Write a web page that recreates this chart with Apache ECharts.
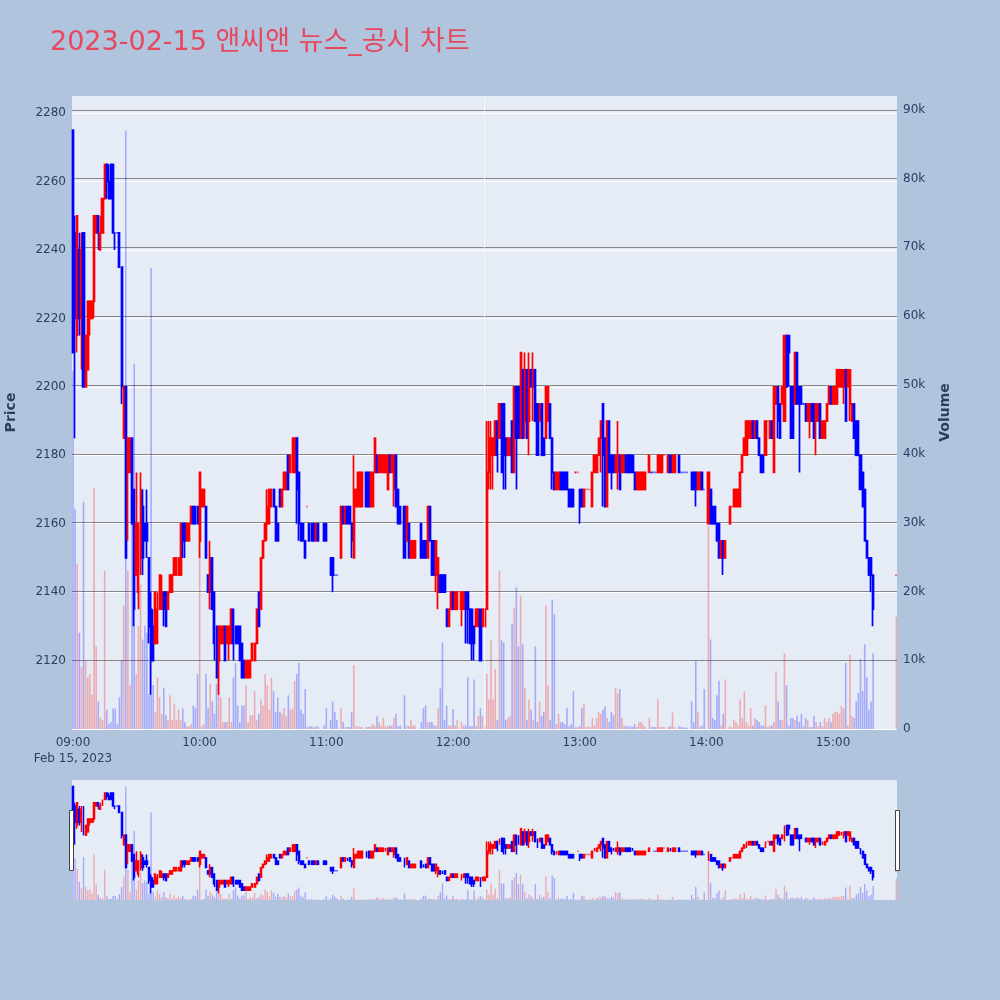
<!DOCTYPE html>
<html><head><meta charset="utf-8">
<script src="https://cdn.jsdelivr.net/npm/echarts@6/dist/echarts.min.js"></script>
<style>html,body{margin:0;padding:0;background:#b0c4de;}#c{width:1000px;height:1000px;}</style>
</head><body><div id="c"></div>
<script>
const titleText = '2023-02-15 앤씨앤 뉴스_공시 차트';
const dateLabel = 'Feb 15, 2023';
const timeTicks = [0, 60, 120, 180, 240, 300, 360];   // minutes after 09:00
const disclosureMinute = 195;                          // 12:15 marker line

// minute offset from 09:00 for each candle
const minuteOfDay = [
0,1,2,3,4,5,6,7,8,9,
10,11,12,13,14,15,16,17,18,19,
20,21,22,23,24,25,26,27,28,29,
30,31,32,33,34,35,36,37,38,39,
40,41,42,43,44,45,46,47,48,49,
50,51,52,53,54,55,56,57,58,59,
60,61,62,63,64,65,66,67,68,69,
70,71,72,73,74,75,76,77,78,79,
80,81,82,83,84,85,86,87,88,89,
90,91,92,93,94,95,96,97,98,99,
100,101,102,103,104,105,106,107,108,109,
110,111,112,113,114,115,116,119,120,122,
123,124,125,127,128,129,130,131,132,133,
134,135,136,137,139,140,141,142,143,144,
145,146,147,148,149,150,151,152,153,154,
155,157,158,159,160,161,162,165,166,167,
168,169,170,171,172,173,174,175,176,177,
178,179,180,181,182,184,185,186,187,188,
189,190,191,192,193,194,195,196,197,198,
199,200,201,202,203,204,205,206,207,208,
209,210,211,212,213,214,215,216,217,218,
219,220,221,222,223,224,225,226,227,228,
229,230,231,232,233,234,235,236,237,238,
239,240,241,242,243,244,245,246,247,248,
249,250,251,252,253,254,255,256,257,258,
259,260,261,262,263,264,265,266,267,268,
269,270,271,273,274,275,276,277,278,279,
280,282,283,284,285,287,288,289,290,291,
293,294,295,296,297,298,299,301,302,303,
304,305,306,307,308,309,311,312,313,314,
315,316,317,318,319,320,321,322,323,324,
325,326,327,328,329,330,331,332,333,334,
335,336,337,338,339,340,341,342,343,344,
345,346,347,348,349,350,351,352,353,354,
355,356,357,358,359,360,361,362,363,364,
365,366,367,368,369,370,371,372,373,374,
375,376,377,378,379,390];

const openPrice = [
2275,2245,2215,2240,2220,2245,2200,2205,2220,2220,
2225,2245,2250,2240,2245,2255,2265,2260,2265,2265,
2245,2245,2245,2235,2185,2200,2175,2175,2185,2170,
2145,2140,2150,2165,2160,2160,2150,2135,2130,2125,
2125,2135,2135,2140,2140,2135,2140,2140,2145,2145,
2145,2145,2160,2160,2155,2155,2160,2165,2165,2165,
2155,2165,2165,2165,2145,2140,2150,2140,2130,2120,
2125,2125,2130,2125,2125,2125,2135,2130,2130,2130,
2125,2120,2115,2115,2115,2120,2120,2125,2140,2135,
2150,2155,2160,2160,2165,2170,2165,2160,2170,2165,
2170,2170,2180,2175,2175,2175,2185,2175,2160,2160,
2155,2165,2160,2160,2160,2155,2160,2160,2160,2150,
2150,2145,2145,2150,2165,2160,2165,2165,2160,2150,
2165,2165,2165,2165,2175,2175,2165,2165,2175,2180,
2175,2175,2175,2175,2170,2180,2175,2170,2180,2170,
2165,2165,2155,2160,2150,2150,2150,2160,2155,2155,
2150,2165,2155,2155,2145,2140,2145,2145,2145,2135,
2130,2135,2140,2135,2135,2135,2135,2140,2140,2135,
2135,2130,2130,2130,2135,2130,2130,2135,2175,2180,
2180,2180,2190,2185,2195,2195,2185,2180,2180,2190,
2175,2200,2200,2185,2205,2190,2205,2190,2205,2200,
2205,2195,2190,2195,2185,2185,2190,2195,2185,2175,
2170,2170,2175,2175,2175,2175,2170,2170,2170,2175,
2175,2170,2170,2165,2170,2170,2170,2165,2175,2175,
2180,2185,2195,2185,2165,2190,2180,2180,2175,2175,
2180,2175,2175,2180,2180,2180,2180,2175,2170,2170,
2170,2170,2170,2175,2175,2175,2175,2175,2175,2175,
2180,2175,2180,2175,2175,2180,2175,2175,2175,2175,
2175,2175,2175,2170,2170,2175,2170,2160,2170,2165,
2165,2160,2160,2150,2155,2150,2160,2165,2165,2165,
2165,2165,2175,2180,2180,2185,2185,2190,2185,2190,
2185,2180,2180,2180,2190,2185,2190,2175,2195,2200,
2195,2195,2190,2215,2215,2200,2200,2195,2210,2200,
2200,2195,2195,2190,2190,2195,2195,2190,2190,2195,
2185,2185,2190,2195,2200,2195,2195,2195,2200,2200,
2200,2205,2200,2195,2190,2195,2190,2190,2180,2175,
2170,2155,2150,2150,2145,2145];

const closePrice = [
2210,2220,2250,2220,2240,2200,2215,2225,2225,2225,
2250,2250,2245,2245,2255,2265,2260,2255,2255,2245,
2245,2245,2235,2200,2200,2150,2185,2185,2160,2135,
2160,2160,2170,2150,2155,2155,2130,2120,2120,2140,
2135,2145,2140,2135,2130,2140,2145,2145,2150,2150,
2150,2160,2155,2155,2160,2160,2165,2160,2160,2160,
2175,2170,2170,2150,2140,2150,2135,2125,2115,2130,
2130,2130,2120,2130,2130,2135,2125,2125,2125,2120,
2115,2115,2120,2120,2120,2125,2125,2135,2130,2150,
2155,2160,2165,2170,2170,2165,2155,2155,2165,2170,
2175,2175,2170,2180,2185,2185,2170,2160,2155,2155,
2150,2165,2155,2155,2155,2160,2155,2155,2155,2145,
2145,2145,2145,2165,2160,2165,2160,2160,2155,2170,
2170,2175,2175,2175,2165,2165,2175,2175,2185,2175,
2180,2180,2180,2180,2180,2175,2180,2180,2165,2160,
2160,2150,2165,2150,2155,2155,2155,2150,2150,2150,
2165,2155,2145,2145,2155,2150,2140,2140,2140,2130,
2135,2140,2135,2140,2140,2140,2140,2135,2135,2125,
2125,2125,2135,2135,2120,2135,2135,2175,2185,2185,
2185,2190,2180,2195,2175,2180,2180,2185,2185,2175,
2200,2185,2185,2210,2185,2205,2185,2205,2200,2205,
2190,2180,2195,2180,2180,2200,2200,2185,2175,2170,
2175,2175,2170,2170,2170,2170,2165,2165,2165,2175,
2175,2165,2165,2170,2170,2170,2170,2175,2180,2180,
2185,2190,2180,2165,2190,2175,2175,2175,2180,2180,
2170,2180,2180,2175,2175,2175,2175,2170,2175,2175,
2175,2175,2175,2180,2175,2175,2175,2180,2180,2180,
2180,2180,2175,2180,2180,2175,2175,2175,2175,2175,
2170,2170,2170,2175,2175,2170,2170,2175,2160,2160,
2160,2155,2150,2155,2150,2155,2165,2165,2170,2170,
2170,2175,2180,2185,2190,2190,2190,2185,2190,2185,
2180,2175,2175,2190,2190,2190,2185,2200,2200,2190,
2185,2200,2215,2200,2210,2185,2185,2210,2195,2195,
2195,2195,2190,2195,2195,2190,2185,2195,2195,2185,
2190,2190,2195,2200,2195,2200,2200,2205,2205,2205,
2205,2190,2205,2205,2195,2185,2180,2180,2170,2165,
2155,2150,2145,2145,2135,2145];

const lowPrice = [
2210,2185,2210,2215,2205,2200,2200,2205,2215,2220,
2220,2245,2240,2240,2245,2255,2255,2255,2255,2245,
2240,2245,2235,2195,2185,2150,2155,2175,2160,2130,
2145,2135,2145,2145,2155,2150,2125,2110,2120,2125,
2125,2135,2135,2130,2130,2135,2140,2140,2145,2145,
2145,2145,2150,2150,2155,2155,2160,2160,2160,2160,
2150,2165,2165,2150,2140,2135,2135,2120,2115,2110,
2125,2125,2120,2125,2120,2125,2120,2125,2125,2120,
2115,2115,2115,2115,2115,2120,2120,2125,2130,2135,
2150,2155,2155,2160,2165,2165,2155,2155,2165,2165,
2170,2170,2170,2175,2175,2175,2160,2155,2155,2155,
2150,2165,2155,2155,2155,2155,2155,2155,2155,2145,
2140,2145,2145,2150,2160,2160,2160,2160,2150,2150,
2165,2165,2165,2165,2165,2165,2165,2165,2175,2175,
2175,2175,2175,2175,2170,2175,2175,2165,2165,2160,
2160,2150,2155,2150,2150,2150,2150,2150,2150,2150,
2150,2155,2145,2145,2140,2135,2140,2140,2140,2130,
2130,2135,2135,2135,2135,2130,2135,2125,2125,2125,
2120,2120,2130,2130,2120,2130,2130,2135,2170,2170,
2170,2180,2175,2185,2175,2170,2170,2180,2180,2175,
2175,2170,2185,2185,2185,2185,2185,2180,2200,2190,
2190,2180,2190,2180,2180,2185,2190,2185,2170,2170,
2170,2170,2170,2170,2170,2170,2165,2165,2165,2175,
2175,2160,2165,2165,2170,2170,2170,2165,2175,2175,
2180,2175,2165,2165,2165,2175,2170,2175,2175,2170,
2170,2175,2175,2175,2175,2175,2175,2170,2170,2170,
2170,2170,2170,2175,2175,2175,2175,2175,2175,2175,
2180,2175,2175,2175,2175,2175,2175,2175,2175,2175,
2170,2170,2165,2170,2170,2170,2170,2160,2160,2160,
2160,2155,2150,2150,2145,2150,2160,2165,2165,2165,
2165,2165,2175,2180,2180,2185,2185,2185,2185,2185,
2180,2175,2175,2180,2190,2185,2185,2175,2195,2185,
2185,2195,2190,2200,2200,2185,2185,2195,2195,2175,
2195,2195,2190,2190,2185,2190,2185,2180,2190,2185,
2185,2185,2190,2195,2195,2195,2195,2195,2200,2200,
2195,2190,2200,2190,2190,2185,2180,2180,2170,2165,
2155,2150,2145,2140,2130,2145];

const highPrice = [
2275,2250,2250,2245,2245,2245,2215,2225,2225,2225,
2250,2250,2250,2250,2255,2265,2265,2265,2265,2265,
2245,2245,2245,2235,2200,2200,2185,2185,2185,2170,
2175,2160,2175,2170,2160,2170,2150,2140,2135,2140,
2140,2145,2145,2140,2140,2140,2145,2145,2150,2150,
2150,2160,2160,2160,2160,2160,2165,2165,2165,2165,
2175,2170,2170,2165,2145,2155,2150,2140,2130,2130,
2130,2130,2130,2130,2130,2135,2135,2130,2130,2130,
2125,2120,2120,2120,2120,2125,2125,2135,2140,2150,
2155,2160,2170,2170,2170,2170,2165,2160,2170,2170,
2175,2175,2180,2180,2185,2185,2185,2175,2160,2160,
2155,2165,2160,2160,2160,2160,2160,2160,2160,2150,
2150,2145,2145,2165,2165,2165,2165,2165,2160,2180,
2170,2175,2175,2175,2175,2175,2175,2175,2185,2180,
2180,2180,2180,2180,2180,2180,2180,2180,2180,2170,
2165,2165,2165,2160,2155,2155,2155,2160,2155,2155,
2165,2165,2155,2155,2155,2150,2145,2145,2145,2135,
2135,2140,2140,2140,2140,2140,2140,2140,2140,2135,
2135,2130,2135,2135,2135,2135,2135,2190,2190,2190,
2185,2190,2190,2195,2195,2195,2185,2185,2185,2190,
2200,2200,2200,2210,2205,2210,2205,2210,2205,2210,
2205,2195,2195,2195,2185,2200,2200,2195,2185,2175,
2175,2175,2175,2175,2175,2175,2170,2170,2170,2175,
2175,2170,2170,2170,2170,2170,2170,2175,2180,2180,
2185,2190,2195,2185,2190,2190,2180,2180,2180,2190,
2180,2180,2180,2180,2180,2180,2180,2175,2175,2175,
2175,2175,2175,2180,2175,2175,2175,2180,2180,2180,
2180,2180,2180,2180,2180,2180,2175,2175,2175,2175,
2175,2175,2175,2175,2175,2175,2170,2175,2170,2165,
2165,2160,2160,2155,2155,2155,2165,2165,2170,2170,
2170,2175,2180,2185,2190,2190,2190,2190,2190,2190,
2185,2180,2180,2190,2190,2190,2190,2200,2200,2200,
2195,2200,2215,2215,2215,2200,2200,2210,2210,2200,
2200,2195,2195,2195,2195,2195,2195,2195,2195,2195,
2190,2190,2195,2200,2200,2200,2200,2205,2205,2205,
2205,2205,2205,2205,2195,2195,2190,2190,2180,2175,
2170,2155,2150,2150,2145,2145];

// traded volume per minute, thousands of shares
const volumeK = [
52,32,24,14,9,33,10,7.5,8,5,
35,12,4,1.6,1.3,23,2.8,0.7,1,3,
3,0.7,4.6,10,18,87,23,6.4,32,53,
8,15,21,13,15,14,5,67,6.4,2.5,
7.5,4.6,2.2,6,2,1.3,4.9,1.3,3.7,1.3,
2.8,1.3,3,1,0.4,0.4,0.7,3.4,3,8,
37,0.4,0.7,8,3,6.6,4,2.2,6.6,10,
4.6,1,1,1,4.6,1,7.5,9.6,3.4,1,
3.4,3.4,6.4,1,2,2,5.5,1.3,2.2,4.3,
3.4,8,6.4,2.8,7.5,5.5,2.5,4.6,2.5,2.2,
3,1.9,4.9,2.8,3,7,8,9.6,2.8,2.2,
5.8,0.3,0.4,0.4,0.3,0.4,0.4,0.5,3,1.3,
4,2.5,1.3,3,1,0.3,0.3,0.3,2.5,9.3,
0.4,0.4,0.3,0.3,0.3,0.3,0.4,0.7,0.4,1.9,
1,0.5,1.6,0.4,0.4,0.5,0.5,1.6,2.2,0.4,
0.5,4.9,0.5,0.4,1.3,0.5,0.5,1,3,3.4,
1,1,1,0.5,0.5,3,5.9,12.6,1.3,3.4,
0.5,0.5,2.9,0.5,1.3,1,0.5,0.5,7.5,0.4,
0.4,7.2,0.5,1.9,3,1.9,0.5,8,4.3,12.9,
4.3,8.7,1.3,23,12.9,12.6,1.3,1.6,1.9,15.3,
17.6,20.6,12,19.4,12.3,6,1.3,4.3,2.8,1.3,
12,1,4,1.9,2.5,18,6.4,1.3,18.8,16.7,
0.7,2.2,1,1,0.7,3,0.4,0.7,5.5,0.3,
0.3,0.4,3,3.7,0.3,0.4,0.3,1.6,0.5,1.6,
2.5,2.2,2.8,3.3,1.6,1,2.5,2,6,5.2,
5.8,1.6,0.5,0.4,0.4,0.4,0.3,0.7,0.3,1,
1,0.7,0.3,1.6,0.3,0.3,0.3,4.3,0.3,0.3,
0.3,0.3,0.4,2.4,0.3,0.4,0.3,0.2,0.2,0.2,
4,1,9.9,2.5,0.4,0.5,5.8,29.5,13,1.6,
1.3,4.9,7,0.5,2.2,7.2,0.4,0.3,1.3,1,
0.5,4.3,1.6,5.5,1,0.5,3,0.5,1.6,1.3,
1,0.5,0.5,3.4,0.3,0.5,0.5,1,8.4,4,
1.3,1.3,11,6.4,0.5,1.6,1.6,1.3,1.9,1,
2.2,0.4,1.6,1.3,0.3,0.3,1.9,1,0.4,1,
0.4,1.6,1,1.6,1,2.2,2.5,2.5,2.2,3.4,
3,9.6,0.5,10.8,1.9,1.6,4,5.2,10.2,5.5,
12.3,7.5,2.8,4,11,16.3];

const lens = [minuteOfDay, openPrice, closePrice, lowPrice, highPrice, volumeK].map(a => a.length);
if (new Set(lens).size !== 1) throw new Error('length mismatch ' + lens.join(','));

const UP = '#ff0000', DOWN = '#0000ff';
const UP_V = 'rgba(255,0,0,0.28)', DOWN_V = 'rgba(0,0,255,0.28)';

// direction: close vs open, ties resolved by previous close, then previous direction
const dir = [];
for (let i = 0; i < minuteOfDay.length; i++) {
  const o = openPrice[i], c = closePrice[i];
  let d;
  if (c > o) d = 1; else if (c < o) d = -1;
  else if (i > 0 && c > closePrice[i - 1]) d = 1;
  else if (i > 0 && c < closePrice[i - 1]) d = -1;
  else d = i > 0 ? dir[i - 1] : 1;
  dir.push(d);
}

function candleData() {
  return minuteOfDay.map((m, i) => {
    const col = dir[i] > 0 ? UP : DOWN;
    return { value: [m, openPrice[i], closePrice[i], lowPrice[i], highPrice[i]],
      itemStyle: { color: col, color0: col, borderColor: col, borderColor0: col } };
  });
}
function volumeData() {
  return minuteOfDay.map((m, i) => [m, volumeK[i] * 1000, dir[i]]);
}
function volumeRenderer(barW) {
  return function (params, api) {
    const x = api.value(0), v = api.value(1);
    const base = api.coord([x, 0]);
    const top = api.coord([x, v]);
    return { type: 'rect',
      shape: { x: base[0] - barW / 2, y: top[1], width: barW, height: base[1] - top[1] },
      style: { fill: api.value(2) > 0 ? UP_V : DOWN_V } };
  };
}

const pad = n => (n < 10 ? '0' : '') + n;
const FONT = "'DejaVu Sans', 'Noto Sans CJK KR', sans-serif";
const TXT = '#2a3f5f';
const X_MIN = -0.47, X_MAX = 390.3;

const chart = echarts.init(document.getElementById('c'), null, { width: 1000, height: 1000 });
chart.setOption({
  animation: false,
  backgroundColor: '#b0c4de',
  title: { text: titleText, left: 45, top: 24, padding: 5,
    textStyle: { color: '#e8485e', fontSize: 27, fontWeight: 'normal', fontFamily: FONT } },
  grid: [
    { left: 72, right: 103, top: 96, height: 633, show: true, backgroundColor: '#e5ecf6', borderWidth: 0,
      containLabel: false, outerBoundsMode: 'none' },
    { left: 72, right: 103, top: 780, height: 120, show: true, backgroundColor: '#e5ecf6', borderWidth: 0,
      containLabel: false, outerBoundsMode: 'none' }
  ],
  xAxis: [
    { type: 'value', gridIndex: 0, min: X_MIN, max: X_MAX,
      axisLine: { show: false }, axisTick: { show: false }, splitLine: { show: false },
      axisLabel: { customValues: timeTicks, color: TXT, fontSize: 12, fontFamily: FONT, margin: 6, lineHeight: 16,
        formatter: v => pad(9 + Math.floor(v / 60)) + ':' + pad(v % 60) + (v === 0 ? '\n' + dateLabel : '') } },
    { type: 'value', gridIndex: 1, min: X_MIN, max: X_MAX, show: false, splitLine: { show: false } }
  ],
  yAxis: [
    { type: 'value', gridIndex: 0, position: 'left', min: 2100, max: 2285, interval: 20,
      name: 'Price', nameLocation: 'middle', nameGap: 54, nameRotate: 90,
      nameTextStyle: { color: TXT, fontSize: 14, fontWeight: 'bold', fontFamily: FONT },
      axisLine: { show: false }, axisTick: { show: false },
      axisLabel: { color: TXT, fontSize: 12, fontFamily: FONT, margin: 6, showMinLabel: false, showMaxLabel: false,
        formatter: v => String(v) },
      splitLine: { show: true, showMaxLine: false, lineStyle: { color: '#ffffff', width: 1 } } },
    { type: 'value', gridIndex: 0, position: 'right', min: 0, max: 92000, interval: 10000,
      name: 'Volume', nameLocation: 'middle', nameGap: 41, nameRotate: 90,
      nameTextStyle: { color: TXT, fontSize: 14, fontWeight: 'bold', fontFamily: FONT },
      axisLine: { show: false }, axisTick: { show: false },
      axisLabel: { color: TXT, fontSize: 12, fontFamily: FONT, margin: 6, showMaxLabel: false,
        formatter: v => v === 0 ? '0' : (v / 1000) + 'k' },
      splitLine: { show: true, showMaxLine: false, showMinLine: false, lineStyle: { color: '#888888', width: 1 } } },
    { type: 'value', gridIndex: 1, min: 2100, max: 2285, show: false, splitLine: { show: false } },
    { type: 'value', gridIndex: 1, min: 0, max: 92000, show: false, splitLine: { show: false } }
  ],
  series: [
    { type: 'custom', xAxisIndex: 0, yAxisIndex: 1, data: volumeData(), renderItem: volumeRenderer(1.6),
      encode: { x: 0, y: 1 }, z: 1, silent: true, clip: true },
    { type: 'candlestick', xAxisIndex: 0, yAxisIndex: 0, data: candleData(), barWidth: 1.6, z: 3,
      itemStyle: { borderWidth: 1.7 }, silent: true,
      markLine: { silent: true, symbol: 'none', label: { show: false },
        lineStyle: { color: 'rgba(255,255,255,0.6)', width: 1, type: 'solid' },
        data: [{ xAxis: disclosureMinute }] } },
    { type: 'custom', xAxisIndex: 1, yAxisIndex: 3, data: volumeData(), renderItem: volumeRenderer(1.4),
      encode: { x: 0, y: 1 }, z: 1, silent: true, clip: true },
    { type: 'candlestick', xAxisIndex: 1, yAxisIndex: 2, data: candleData(), barWidth: 1.4, z: 3,
      itemStyle: { borderWidth: 1.5 }, silent: true }
  ],
  graphic: [
    { type: 'rect', shape: { x: 69.5, y: 810.5, width: 4, height: 60 },
      style: { fill: '#ffffff', stroke: '#444444', lineWidth: 1 }, z: 100 },
    { type: 'rect', shape: { x: 895.5, y: 810.5, width: 4, height: 60 },
      style: { fill: '#ffffff', stroke: '#444444', lineWidth: 1 }, z: 100 }
  ]
});
</script>
</body></html>
